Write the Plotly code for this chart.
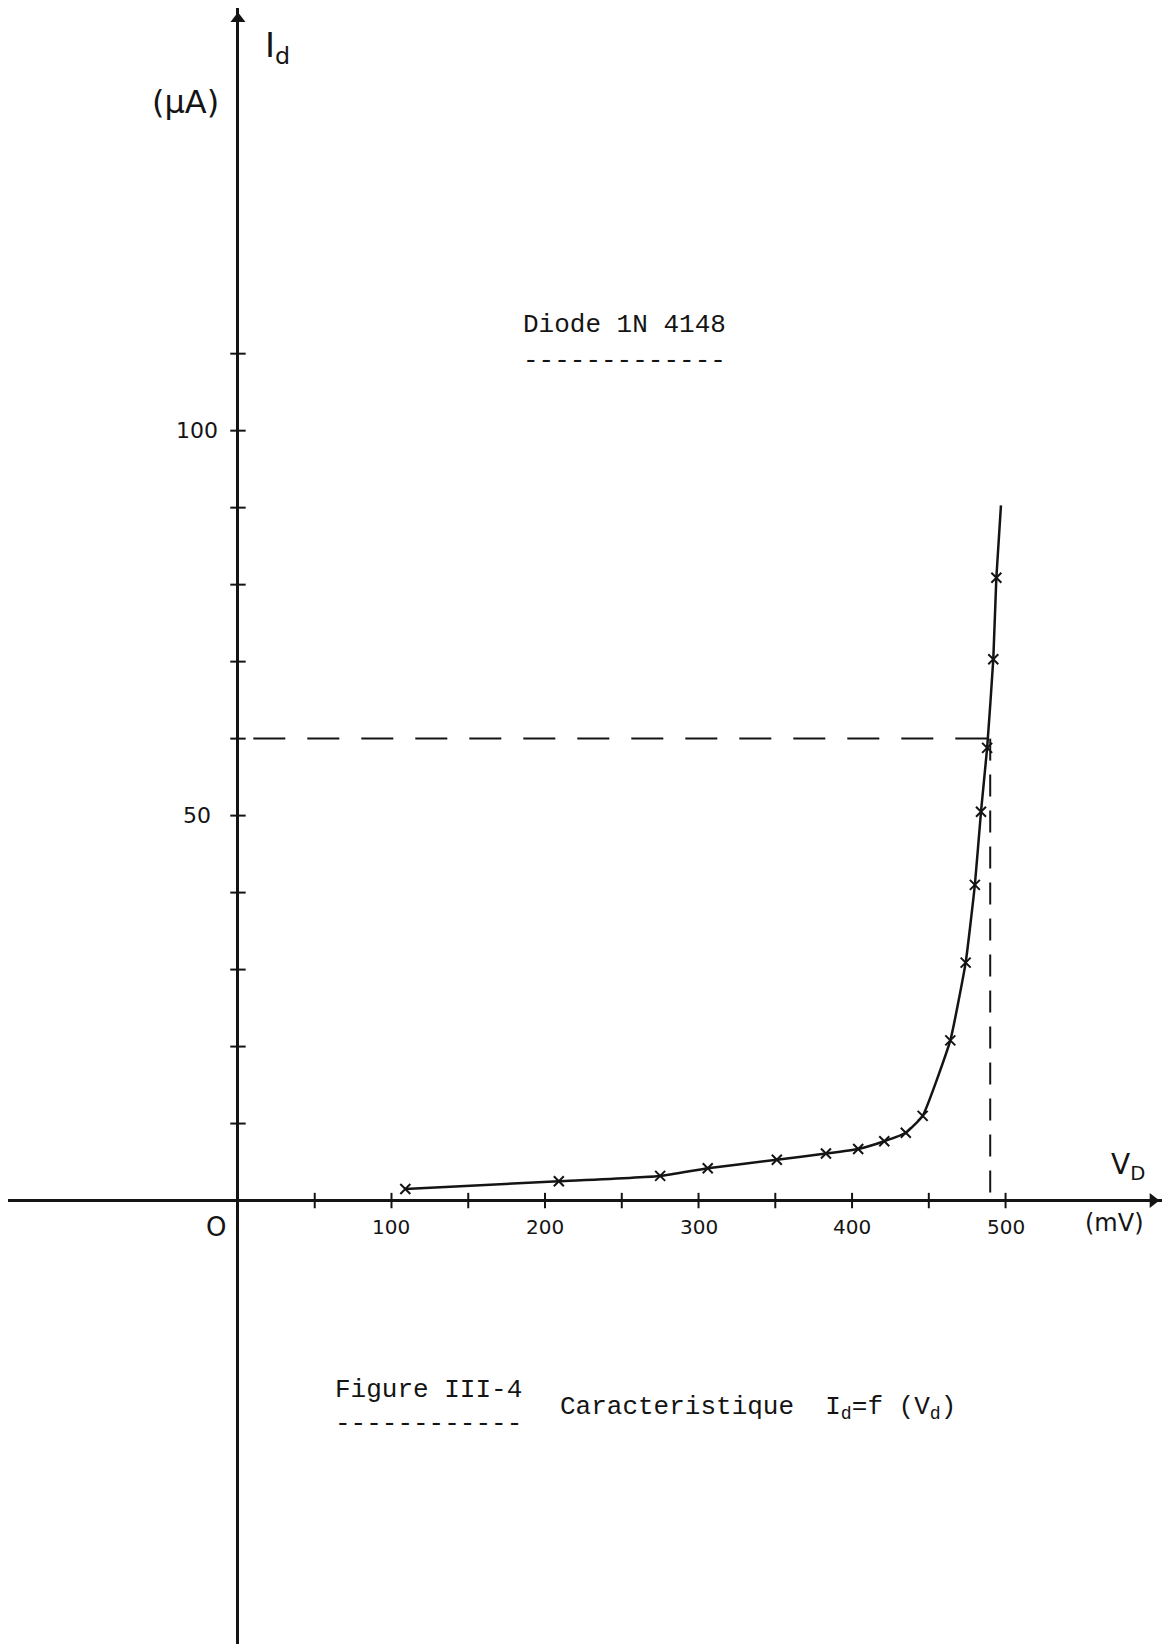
import plotly.graph_objects as go

# ---- data (V in mV, I in uA) ----
v_meas = [109, 209, 275, 306, 351, 383, 404, 421, 435, 446, 464, 474, 480, 484, 488, 492, 494]
i_meas = [1.5, 2.5, 3.2, 4.2, 5.3, 6.1, 6.7, 7.7, 8.8, 11.0, 20.8, 30.9, 41.0, 50.5, 58.8, 70.3, 80.9]
v_curve_end = [497]
i_curve_end = [90.3]

x_ticks = [50, 100, 150, 200, 250, 300, 350, 400, 450, 500]
x_tick_labels = {100: "100", 200: "200", 300: "300", 400: "400", 500: "500"}
y_ticks = [10, 20, 30, 40, 50, 60, 70, 80, 90, 100, 110]
y_tick_labels = {50: "50", 100: "100"}

i_ref = 60      # horizontal dashed reference current
v_ref = 490     # vertical dashed reference voltage

# ---- layout geometry ----
W, H = 1154, 1636
XR = [-149.8, 601.9]
YR = [-57.6, 154.9]
X_ARROW = 596     # end of the V axis
Y_ARROW = 153.5   # end of the I axis

INK = "#141414"
HAND = "DejaVu Sans, sans-serif"
MONO = "Liberation Mono, Courier New, monospace"

fig = go.Figure()

# dashed reference lines
fig.add_trace(go.Scatter(x=[10, v_ref], y=[i_ref, i_ref], mode="lines",
                         line=dict(color=INK, width=2, dash="32px,22px"),
                         hoverinfo="skip", showlegend=False))
fig.add_trace(go.Scatter(x=[v_ref, v_ref], y=[i_ref, 0], mode="lines",
                         line=dict(color=INK, width=2, dash="22px,14px"),
                         hoverinfo="skip", showlegend=False))

# axis tick marks
fig.add_trace(go.Scatter(x=x_ticks, y=[0] * len(x_ticks), mode="markers",
                         marker=dict(symbol="line-ns", size=11, line=dict(color=INK, width=2)),
                         hoverinfo="skip", showlegend=False))
fig.add_trace(go.Scatter(x=[0] * len(y_ticks), y=y_ticks, mode="markers",
                         marker=dict(symbol="line-ew", size=11, line=dict(color=INK, width=2)),
                         hoverinfo="skip", showlegend=False))

# axis arrowheads
fig.add_trace(go.Scatter(x=[X_ARROW], y=[0], mode="markers",
                         marker=dict(symbol="triangle-right", size=13, color=INK),
                         hoverinfo="skip", showlegend=False))
fig.add_trace(go.Scatter(x=[0], y=[Y_ARROW], mode="markers",
                         marker=dict(symbol="triangle-up", size=13, color=INK),
                         hoverinfo="skip", showlegend=False))

# characteristic curve
fig.add_trace(go.Scatter(x=v_meas + v_curve_end, y=i_meas + i_curve_end, mode="lines",
                         line=dict(color=INK, width=2.5, shape="spline", smoothing=0.4),
                         hoverinfo="skip", showlegend=False))
fig.add_trace(go.Scatter(x=v_meas, y=i_meas, mode="markers",
                         marker=dict(symbol="x-thin", size=10, line=dict(color=INK, width=2)),
                         showlegend=False))

annotations = []

# tick labels (hand-written style)
for v, t in x_tick_labels.items():
    annotations.append(dict(x=v, y=-3.4, text=t, showarrow=False, xanchor="center", yanchor="middle",
                            font=dict(family=HAND, size=20, color=INK)))
for i, t in y_tick_labels.items():
    annotations.append(dict(x=-27, y=i, text=t, showarrow=False, xanchor="center", yanchor="middle",
                            font=dict(family=HAND, size=22, color=INK)))
annotations.append(dict(x=-14.5, y=-3.4, text="O", showarrow=False, xanchor="center", yanchor="middle",
                        font=dict(family=HAND, size=26, color=INK)))

# axis titles
annotations.append(dict(x=26, y=149.8, text="I<sub>d</sub>", showarrow=False, xanchor="center", yanchor="middle",
                        font=dict(family=HAND, size=34, color=INK)))
annotations.append(dict(x=-34, y=142.7, text="(µA)", showarrow=False, xanchor="center", yanchor="middle",
                        font=dict(family=HAND, size=32, color=INK)))
annotations.append(dict(x=580, y=4.4, text="V<sub>D</sub>", showarrow=False, xanchor="center", yanchor="middle",
                        font=dict(family=HAND, size=28, color=INK)))
annotations.append(dict(x=571, y=-2.9, text="(mV)", showarrow=False, xanchor="center", yanchor="middle",
                        font=dict(family=HAND, size=24, color=INK)))

# typed texts
annotations.append(dict(x=252, y=113.7, text="Diode 1N 4148", showarrow=False, xanchor="center", yanchor="middle",
                        font=dict(family=MONO, size=26, color=INK)))
annotations.append(dict(x=252, y=109.0, text="-------------", showarrow=False, xanchor="center", yanchor="middle",
                        font=dict(family=MONO, size=26, color=INK)))
annotations.append(dict(x=62, y=-24.6, text="Figure III-4", showarrow=False, xanchor="left", yanchor="middle",
                        font=dict(family=MONO, size=26, color=INK)))
annotations.append(dict(x=62, y=-29.0, text="------------", showarrow=False, xanchor="left", yanchor="middle",
                        font=dict(family=MONO, size=26, color=INK)))
annotations.append(dict(x=208.5, y=-26.9, text="Caracteristique  I<sub>d</sub>=f (V<sub>d</sub>)",
                        showarrow=False, xanchor="left", yanchor="middle",
                        font=dict(family=MONO, size=26, color=INK)))

fig.update_layout(
    width=W, height=H, autosize=False,
    margin=dict(l=0, r=0, t=0, b=0),
    paper_bgcolor="white", plot_bgcolor="white",
    annotations=annotations,
    xaxis=dict(range=XR, showgrid=False, showticklabels=False, ticks="", showline=False,
               zeroline=True, zerolinecolor=INK, zerolinewidth=2.5, fixedrange=True),
    yaxis=dict(range=YR, showgrid=False, showticklabels=False, ticks="", showline=False,
               zeroline=True, zerolinecolor=INK, zerolinewidth=2.5, fixedrange=True),
)

fig.write_html("out.html")
